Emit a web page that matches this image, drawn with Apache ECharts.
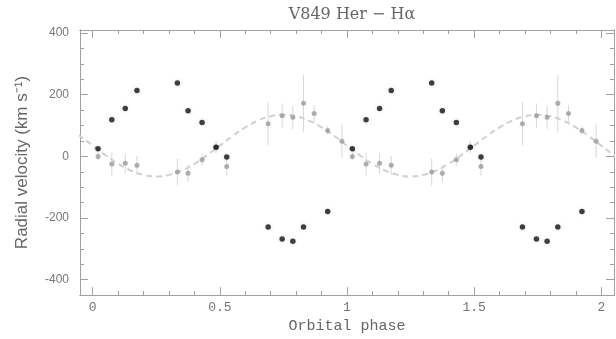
<!DOCTYPE html>
<html>
<head>
<meta charset="utf-8">
<script src="https://cdn.jsdelivr.net/npm/echarts@6/dist/echarts.min.js"></script>
<style>html,body{margin:0;padding:0;background:#fff}#c{width:616px;height:339px}</style>
</head>
<body>
<div id="c"></div>
<script>
// ---- data (one orbital cycle; plotted twice) ----
var phases     = [0.021, 0.075, 0.128, 0.174, 0.333, 0.375, 0.430, 0.485, 0.527, 0.690, 0.745, 0.787, 0.829, 0.871, 0.924, 0.980];
var blackVel   = [25, 119, 155, 214, 238, 148, 110, 30, -2, -229, -268, -275, -229, null, -179, null];
var grayVel    = [0, -25, -22, -29, -51, -55, -11, 30, -33, 106, 132, 127, 172, 139, 84, 49];
var grayErr    = [12, 38, 32, 30, 43, 28, 20, 20, 30, 70, 40, 38, 92, 27, 15, 54];
// fitted curve
var curvePhase = [0, 0.05, 0.10, 0.15, 0.20, 0.25, 0.30, 0.35, 0.40, 0.45, 0.50, 0.55, 0.60, 0.65, 0.70, 0.75, 0.80, 0.85, 0.90, 0.95];
var curveVel   = [35, 4, -24, -46, -60, -65, -60, -46, -24, 4, 35, 66, 94, 116, 130, 135, 130, 116, 94, 66];
var xTickLabels = [0, 0.5, 1, 1.5, 2];
var yTickLabels = [-400, -200, 0, 200, 400];
var cycles = [0, 1];

var blackData = [], grayData = [], errData = [], curveData = [];
cycles.forEach(function (c) {
  phases.forEach(function (p, i) {
    if (blackVel[i] !== null) blackData.push([p + c, blackVel[i]]);
    grayData.push([p + c, grayVel[i]]);
    errData.push([p + c, grayVel[i], grayErr[i]]);
  });
});
[-1, 0, 1, 2].forEach(function (c) {
  curvePhase.forEach(function (p, i) { curveData.push([p + c, curveVel[i]]); });
});

var xMinor = [], yMinor = [];
for (var k = 0; k <= 20; k++) xMinor.push(+(k * 0.1).toFixed(2));
for (var m = -9; m <= 8; m++) yMinor.push(m * 50);

var XMIN = -0.05, XMAX = 2.05, YMIN = -450, YMAX = 410;
var axisCol = '#a0a0a0';

function xAx(pos, ticks, len, labels) {
  return {
    type: 'value', position: pos, min: XMIN, max: XMAX,
    axisLine: { show: true, onZero: false, lineStyle: { color: axisCol, width: 1 } },
    axisTick: { show: true, inside: true, length: len, customValues: ticks, lineStyle: { color: axisCol } },
    axisLabel: labels ? { show: true, customValues: xTickLabels, color: '#777', fontFamily: 'Liberation Mono', fontSize: 13, margin: 6 } : { show: false },
    splitLine: { show: false }
  };
}
function yAx(pos, ticks, len, labels) {
  return {
    type: 'value', position: pos, min: YMIN, max: YMAX,
    axisLine: { show: true, onZero: false, lineStyle: { color: axisCol, width: 1 } },
    axisTick: { show: true, inside: true, length: len, customValues: ticks, lineStyle: { color: axisCol } },
    axisLabel: labels ? { show: true, customValues: yTickLabels, color: '#777', fontFamily: 'Liberation Sans', fontSize: 12, margin: 11 } : { show: false },
    splitLine: { show: false }
  };
}

var xs = [xAx('bottom', xTickLabels, 8, true), xAx('bottom', xMinor, 4, false), xAx('top', xTickLabels, 8, false), xAx('top', xMinor, 4, false)];
xs[0].name = 'Orbital phase';
xs[0].nameLocation = 'middle';
xs[0].nameGap = 23;
xs[0].nameTextStyle = { color: '#666', fontFamily: 'Liberation Mono', fontSize: 15 };
var ys = [yAx('left', yTickLabels, 8, true), yAx('left', yMinor, 4, false), yAx('right', yTickLabels, 8, false), yAx('right', yMinor, 4, false)];
ys[0].name = 'Radial velocity (km s\u207B\u00B9)';
ys[0].nameLocation = 'middle';
ys[0].nameGap = 49;
ys[0].nameTextStyle = { color: '#666', fontFamily: 'Liberation Sans', fontSize: 17 };

var chart = echarts.init(document.getElementById('c'), null, { renderer: 'canvas' });
chart.setOption({
  animation: false,
  backgroundColor: '#fff',
  title: { text: 'V849 Her \u2212 H\u03B1', left: 347, textAlign: 'center', top: 2,
    textStyle: { color: '#666', fontFamily: 'DejaVu Serif', fontSize: 16, fontWeight: 'normal' } },
  grid: { left: 80, right: 2, top: 30, bottom: 43 },
  xAxis: xs,
  yAxis: ys,
  series: [
    { type: 'line', data: curveData, smooth: true, showSymbol: false, symbol: 'none',
      lineStyle: { color: '#d0d0d0', width: 2, type: [6, 4] }, z: 1, silent: true },
    { type: 'custom', data: errData, z: 2, silent: true,
      renderItem: function (params, api) {
        var x = api.value(0), y = api.value(1), e = api.value(2);
        var p1 = api.coord([x, y - e]), p2 = api.coord([x, y + e]);
        return { type: 'line', shape: { x1: p1[0], y1: p1[1], x2: p2[0], y2: p2[1] },
          style: { stroke: '#d8d8d8', lineWidth: 1 } };
      } },
    { type: 'scatter', data: grayData, symbolSize: 5, itemStyle: { color: '#9a9a9a' }, z: 3 },
    { type: 'scatter', data: blackData, symbolSize: 5.5, itemStyle: { color: '#111', shadowColor: 'rgba(0,0,0,0.15)', shadowBlur: 4 }, z: 4 }
  ]
});
</script>
</body>
</html>
